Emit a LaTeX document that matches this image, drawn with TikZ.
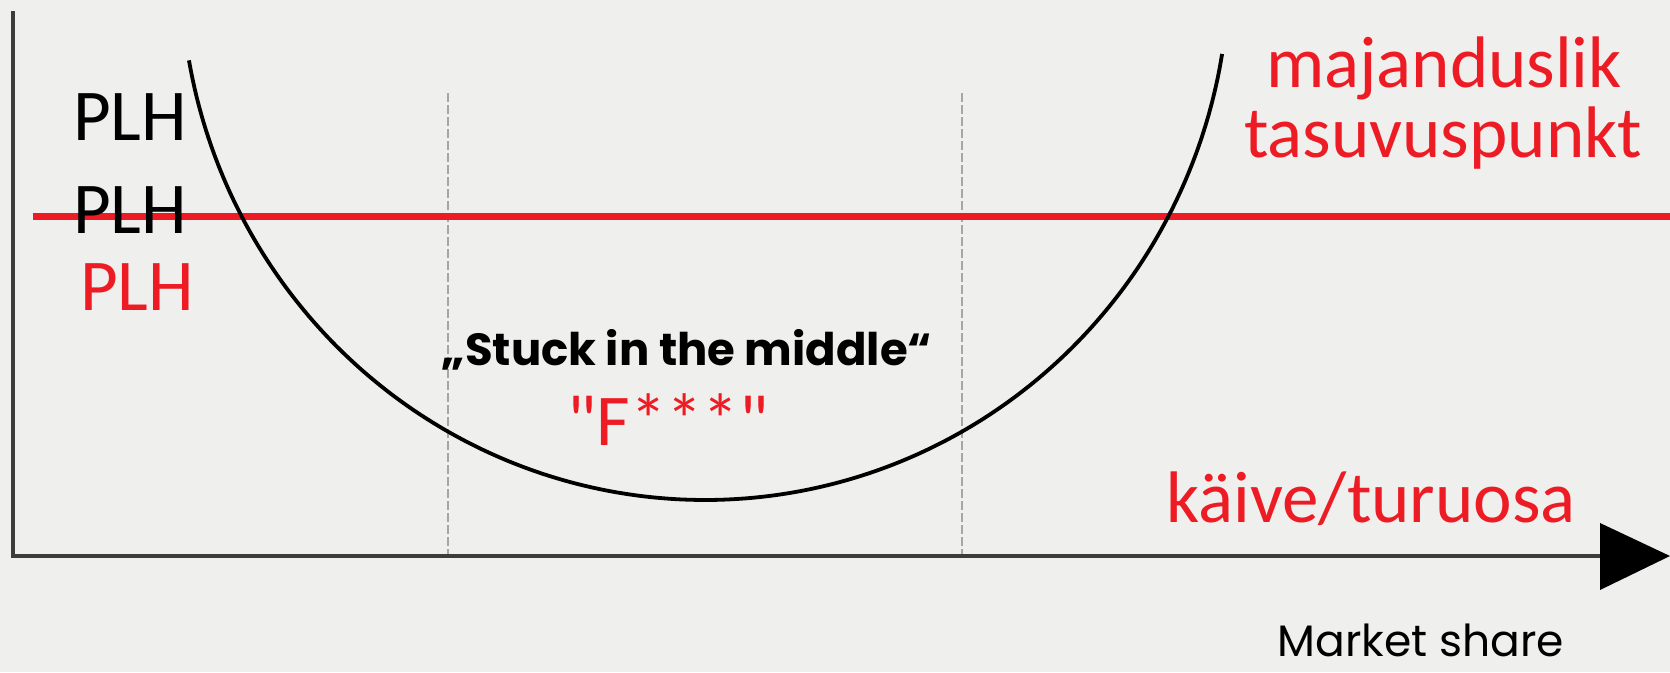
\documentclass[tikz,border=0pt]{standalone}
\usepackage{fontspec}
\setmainfont{Carlito}[Ligatures=TeXOff]
\newfontfamily\geo{Poppins}
\usetikzlibrary{arrows.meta}
\definecolor{bg}{HTML}{EFEFED}
\definecolor{redl}{HTML}{ED1C24}
\definecolor{axisc}{HTML}{3C3C3C}
\tikzset{
  lbl/.style={inner sep=0pt, anchor=base, font=\fontsize{73}{80}\selectfont},
  redlbl/.style={lbl, text=redl},
  axisline/.style={draw=axisc, line width=4pt},
  guide/.style={draw=black!35, line width=2.5pt, dash pattern=on 9pt off 3pt},
}
\begin{document}
\begin{tikzpicture}[x=1pt,y=-1pt]
\fill[bg] (0,0) rectangle (1670,672);
\useasboundingbox (0,0) rectangle (1670,672);
% axes
\coordinate (ytop) at (13,11);
\coordinate (origin) at (13,556);
\coordinate (xend) at (1670,556);
\draw[axisline, line cap=butt, line join=miter] (ytop) -- (origin) -- (1602,556);
\fill[black] (1600,523) -- (xend) -- (1600,590) -- cycle;
% guide lines
\coordinate (g1t) at (448,93); \coordinate (g1b) at (448,554);
\coordinate (g2t) at (962,93); \coordinate (g2b) at (962,554);
\draw[guide] (g1t) -- (g1b);
\draw[guide] (g2t) -- (g2b);
% red line
\coordinate (r1) at (33,216); \coordinate (r2) at (1670,216);
\draw[redl, line width=7pt] (r1) -- (r2);
% curve
\draw[black, line width=3.8pt] plot[domain=170:9.3, samples=120, smooth] ({705+524*cos(\x)}, {-32+532*sin(\x)});
% labels
\node[lbl] (plh1) at (130,140) {PLH};
\node[lbl] (plh2) at (130,233) {PLH};
\node[redlbl] (plh3) at (137,310) {PLH};
\node[redlbl] (maj) at (1444,87) {majanduslik};
\node[redlbl] (tas) at (1443,157) {tasuvuspunkt};
\node[redlbl] (fff) at (668,445) {"F***"};
\node[redlbl] (kaive) at (1371,522) {käive/turuosa};
\node[inner sep=0pt, anchor=base, font=\geo\bfseries\fontsize{45}{50}\selectfont] (stuck) at (687,365) {„Stuck in the middle“};
\node[inner sep=0pt, anchor=base, text depth=0pt, font=\geo\fontsize{44}{50}\selectfont] (ms) at (1421,656) {Market share};
\end{tikzpicture}
\end{document}
